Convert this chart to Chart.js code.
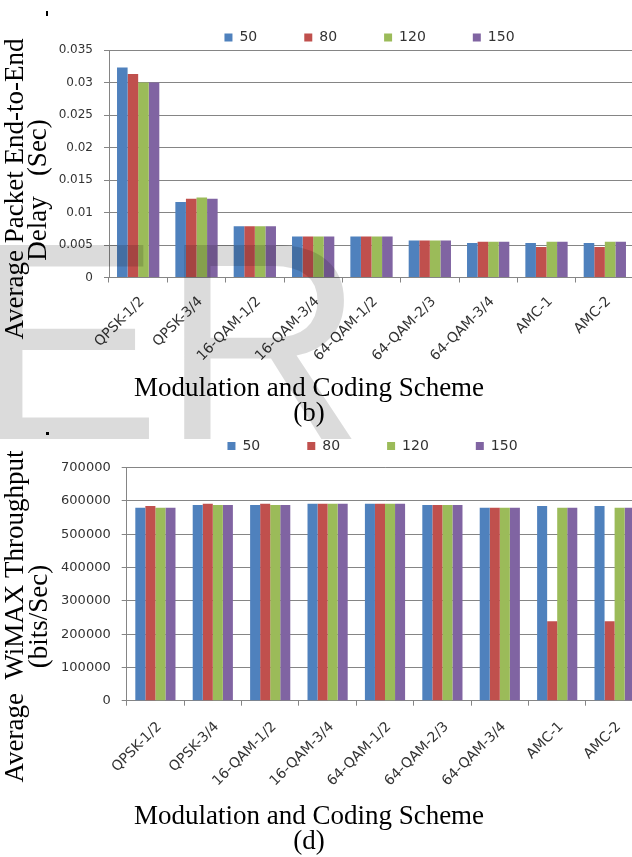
<!DOCTYPE html>
<html>
<head>
<meta charset="utf-8">
<title>Delay and throughput per modulation scheme</title>
<script src="https://cdn.jsdelivr.net/npm/chart.js@4.4.1/dist/chart.umd.min.js"></script>
<style>
  html, body { margin: 0; padding: 0; background: #fff; overflow: hidden; }
  #wrap { position: relative; width: 632px; height: 857px; overflow: hidden; background: #fff; }
  canvas { position: absolute; left: 0; }
  #delayChart { top: 0; }
  #thrChart { top: 430px; }
  .mark { position: absolute; background: #000; }
  #watermark {
    position: absolute; left: -27px; top: 201px;
    font-family: "Liberation Sans", Arial, sans-serif; font-size: 282px; line-height: 282px;
    color: rgba(0, 0, 0, 0.14); white-space: nowrap; pointer-events: none;
  }
</style>
</head>
<body>
<div id="wrap">
  <canvas id="delayChart" width="636" height="430"></canvas>
  <canvas id="thrChart" width="646" height="427"></canvas>
  <div class="mark" style="left:46px;top:11px;width:2px;height:5px"></div>
  <div class="mark" style="left:46px;top:432px;width:3px;height:3px"></div>
  <div id="watermark">ER</div>
</div>
<script>
// categories and series
const schemes = ['QPSK-1/2', 'QPSK-3/4', '16-QAM-1/2', '16-QAM-3/4', '64-QAM-1/2', '64-QAM-2/3', '64-QAM-3/4', 'AMC-1', 'AMC-2'];
const nodeCounts = ['50', '80', '120', '150'];
const barColors = ['#4F81BD', '#C0504D', '#9BBB59', '#8064A2'];

// (b) average packet end-to-end delay, sec
const delay50  = [0.0323, 0.0116, 0.0079, 0.0063, 0.0063, 0.0057, 0.0053, 0.0053, 0.0053];
const delay80  = [0.0313, 0.0121, 0.0079, 0.0063, 0.0063, 0.0057, 0.0055, 0.0047, 0.0047];
const delay120 = [0.0300, 0.0123, 0.0079, 0.0063, 0.0063, 0.0057, 0.0055, 0.0055, 0.0055];
const delay150 = [0.0300, 0.0121, 0.0079, 0.0063, 0.0063, 0.0057, 0.0055, 0.0055, 0.0055];

// (d) average WiMAX throughput, bits/sec
const thr50  = [580000, 588000, 588000, 592000, 592000, 588000, 580000, 585000, 585000];
const thr80  = [585000, 592000, 592000, 592000, 592000, 588000, 580000, 239000, 239000];
const thr120 = [580000, 588000, 588000, 592000, 592000, 588000, 580000, 580000, 580000];
const thr150 = [580000, 588000, 588000, 592000, 592000, 588000, 580000, 580000, 580000];

// tick values
const delayTicks = { max: 0.035, step: 0.005 };
const thrTicks = { max: 700000, step: 100000 };

// text
const xTitle = 'Modulation and Coding Scheme';
const delayTitle = ['Average Packet End-to-End', 'Delay   (Sec)'];
const thrTitle = ['Average  WiMAX Throughput', '(bits/Sec)'];

const gridGray = '#858585';
const tickFont = 'DejaVu Sans';

// legend sits off-centre in the figure and hugs the plot, so move its box after layout
const legendFix = {
  id: 'legendFix',
  beforeLayout(chart, args, opts) {
    const lg = chart.legend;
    if (!lg || lg._fixed) return;
    const fit = lg.fit;
    lg.fit = function () { fit.call(this); this.height = opts.height; };
    lg._fixed = true;
  },
  afterLayout(chart, args, opts) {
    const lg = chart.legend;
    if (!lg) return;
    const w = lg.right - lg.left;
    lg.left = opts.center - w / 2;
    lg.right = lg.left + w;
  }
};

// axis titles placed like in the figure (not centred on the plot)
const freeText = {
  id: 'freeText',
  afterDraw(chart, args, opts) {
    const ctx = chart.ctx;
    ctx.save();
    ctx.fillStyle = '#000';
    ctx.font = opts.font;
    ctx.textAlign = 'center';
    ctx.textBaseline = 'alphabetic';
    opts.items.forEach(it => {
      ctx.save();
      ctx.translate(it.x, it.y);
      if (it.rot) ctx.rotate(it.rot);
      ctx.fillText(it.text, 0, 0);
      ctx.restore();
    });
    ctx.restore();
  }
};

function makeSets(series) {
  return series.map((vals, i) => ({
    label: nodeCounts[i],
    data: vals,
    backgroundColor: barColors[i],
    borderWidth: 0
  }));
}

function makeChart(id, o) {
  return new Chart(document.getElementById(id), {
    type: 'bar',
    data: { labels: schemes, datasets: makeSets(o.series) },
    options: {
      responsive: false,
      animation: false,
      devicePixelRatio: 1,
      layout: { padding: { left: o.padLeft, right: o.padRight, top: o.padTop, bottom: 0 } },
      datasets: { bar: { categoryPercentage: o.catPct, barPercentage: 1 } },
      plugins: {
        tooltip: { enabled: false },
        legend: {
          position: 'top',
          labels: {
            boxWidth: 8, boxHeight: 8, padding: 47,
            color: '#333', font: { family: tickFont, size: 14 }
          }
        },
        legendFix: { height: o.legendH, center: o.legendX },
        freeText: { font: '27px "Liberation Serif", serif', items: o.texts }
      },
      scales: {
        x: {
          grid: { drawOnChartArea: false, color: gridGray, tickLength: 5 },
          border: { color: gridGray },
          ticks: {
            minRotation: 45, maxRotation: 45, padding: o.xPad, labelOffset: 4,
            color: '#333', font: { family: tickFont, size: 14 }
          },
          afterFit(s) { s.height = o.xHeight; }
        },
        y: {
          min: 0, max: o.ticks.max,
          grid: { color: gridGray, tickLength: 5 },
          border: { color: gridGray },
          ticks: {
            stepSize: o.ticks.step, padding: 11, color: '#333',
            font: { family: tickFont, size: o.yFont },
            callback: v => String(Math.round(v * 10000) / 10000)
          },
          afterFit(s) { s.width = o.yWidth; }
        }
      }
    },
    plugins: [legendFix, freeText]
  });
}

makeChart('delayChart', {
  series: [delay50, delay80, delay120, delay150],
  ticks: delayTicks,
  padLeft: 40, padRight: 2, padTop: -16.5, legendH: 66.5, legendX: 369.5,
  yWidth: 69, xHeight: 152.5, catPct: 0.725, yFont: 12, xPad: 11,
  texts: [
    { text: delayTitle[0], x: 23, y: 189, rot: -Math.PI / 2 },
    { text: delayTitle[1], x: 46, y: 190, rot: -Math.PI / 2 },
    { text: xTitle, x: 309, y: 396 },
    { text: '(b)', x: 309, y: 421 }
  ]
});

makeChart('thrChart', {
  series: [thr50, thr80, thr120, thr150],
  ticks: thrTicks,
  padLeft: 40, padRight: 2.7, padTop: -38, legendH: 75.7, legendX: 372.5,
  yWidth: 86.7, xHeight: 156.3, catPct: 0.70, yFont: 13, xPad: 13,
  texts: [
    { text: thrTitle[0], x: 23, y: 186.5, rot: -Math.PI / 2 },
    { text: thrTitle[1], x: 47, y: 186.5, rot: -Math.PI / 2 },
    { text: xTitle, x: 309, y: 394 },
    { text: '(d)', x: 309, y: 419 }
  ]
});
</script>
</body>
</html>
